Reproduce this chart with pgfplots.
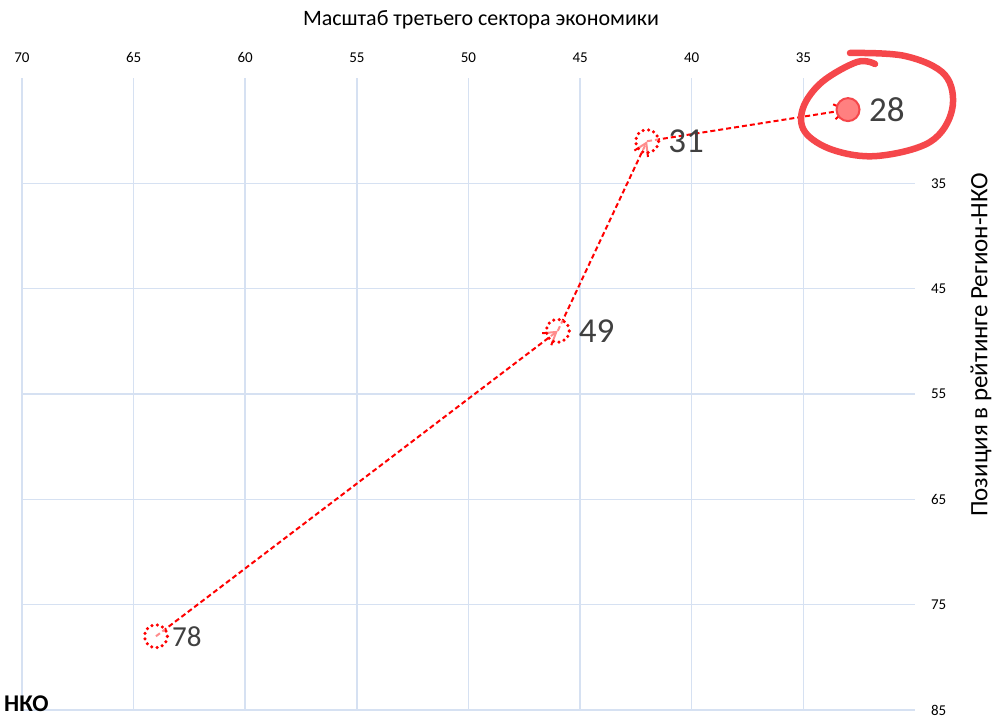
\documentclass[border=0pt]{standalone}
\usepackage{fontspec}
\setmainfont{Carlito}
\usepackage{pgfplots}
\pgfplotsset{compat=1.18, /pgf/number format/assume math mode=true}
\usetikzlibrary{arrows.meta}
\definecolor{gridblue}{HTML}{D6E1F2}
\definecolor{labgray}{HTML}{404040}
\definecolor{hlred}{HTML}{F5474B}
\definecolor{dotred}{HTML}{FF0000}

\begin{document}
\begin{tikzpicture}[x=1pt,y=1pt]
\useasboundingbox (0,0) rectangle (993,716);
\begin{axis}[
    at={(22pt,6pt)}, anchor=south west,
    scale only axis, width=893pt, height=632pt,
    x dir=reverse, y dir=reverse,
    xmin=30, xmax=70, ymin=25, ymax=85,
    xtick={35,40,...,70}, ytick={35,45,...,85},
    xticklabel pos=top, yticklabel pos=right,
    axis line style={draw=none},
    major tick length=0pt,
    grid=major, major grid style={gridblue, line width=1.5pt},
    ticklabel style={font=\fontsize{15}{17}\selectfont, text=black},
    xticklabel style={yshift=12pt},
    yticklabel style={xshift=12.5pt},
    clip=false]

  % highlighted end point
  \addplot[only marks, mark=*, mark size=11.5pt,
           mark options={fill=red!50, draw=hlred, line width=2pt}]
      coordinates {(33,28)};

  % path segments
  \addplot[dotred, line width=2pt, dash pattern=on 5pt off 3pt,
           -{Straight Barb[length=12pt,width=15pt]}]
      coordinates {(64,78) (46,49)};
  \addplot[dotred, line width=2pt, dash pattern=on 5pt off 3pt,
           -{Straight Barb[length=12pt,width=15pt]}]
      coordinates {(46,49) (42,31)};
  \addplot[dotred, line width=2pt, dash pattern=on 5pt off 3pt,
           -{Straight Barb[length=12pt,width=15pt]}]
      coordinates {(42,31) (33,28)};

  % dotted markers
  \addplot[only marks, mark=*, mark size=11.5pt,
           mark options={draw=dotred, fill=white, fill opacity=0.55,
                         line width=3.5pt, line cap=round,
                         dash pattern=on 0pt off 5.5pt}]
      coordinates {(64,78) (46,49) (42,31)};

  % value labels
  \addplot[draw=none, mark=none, nodes near coords, point meta=y,
           every node near coord/.style={anchor=west, inner sep=0pt,
             xshift=21pt, yshift=0pt, text=labgray,
             font=\fontsize{35}{40}\selectfont}]
      coordinates {(46,49) (42,31) (33,28)};
  \addplot[draw=none, mark=none, nodes near coords, point meta=y,
           every node near coord/.style={anchor=west, inner sep=0pt,
             xshift=16pt, yshift=0pt, text=labgray,
             font=\fontsize{29}{33}\selectfont}]
      coordinates {(64,78)};
\end{axis}

% hand-drawn highlight loop
\draw[hlred, line width=6.5pt, line cap=round, line join=round]
  plot[smooth, tension=0.6] coordinates {
    (875,652) (857,654) (822,634) (803,608) (805,584) (833,566)
    (877,560) (930,574) (952,606) (945,641) (905,660) (850,663)};

\node[font=\fontsize{22}{26}\selectfont] at (481,696)
  {Масштаб третьего сектора экономики};
\node[font=\fontsize{25}{29}\selectfont, rotate=90] at (981,371)
  {Позиция в рейтинге Регион-НКО};
\node[font=\fontsize{24}{28}\selectfont\bfseries, anchor=west, inner sep=0pt]
  at (4,12) {НКО};
\end{tikzpicture}
\end{document}
